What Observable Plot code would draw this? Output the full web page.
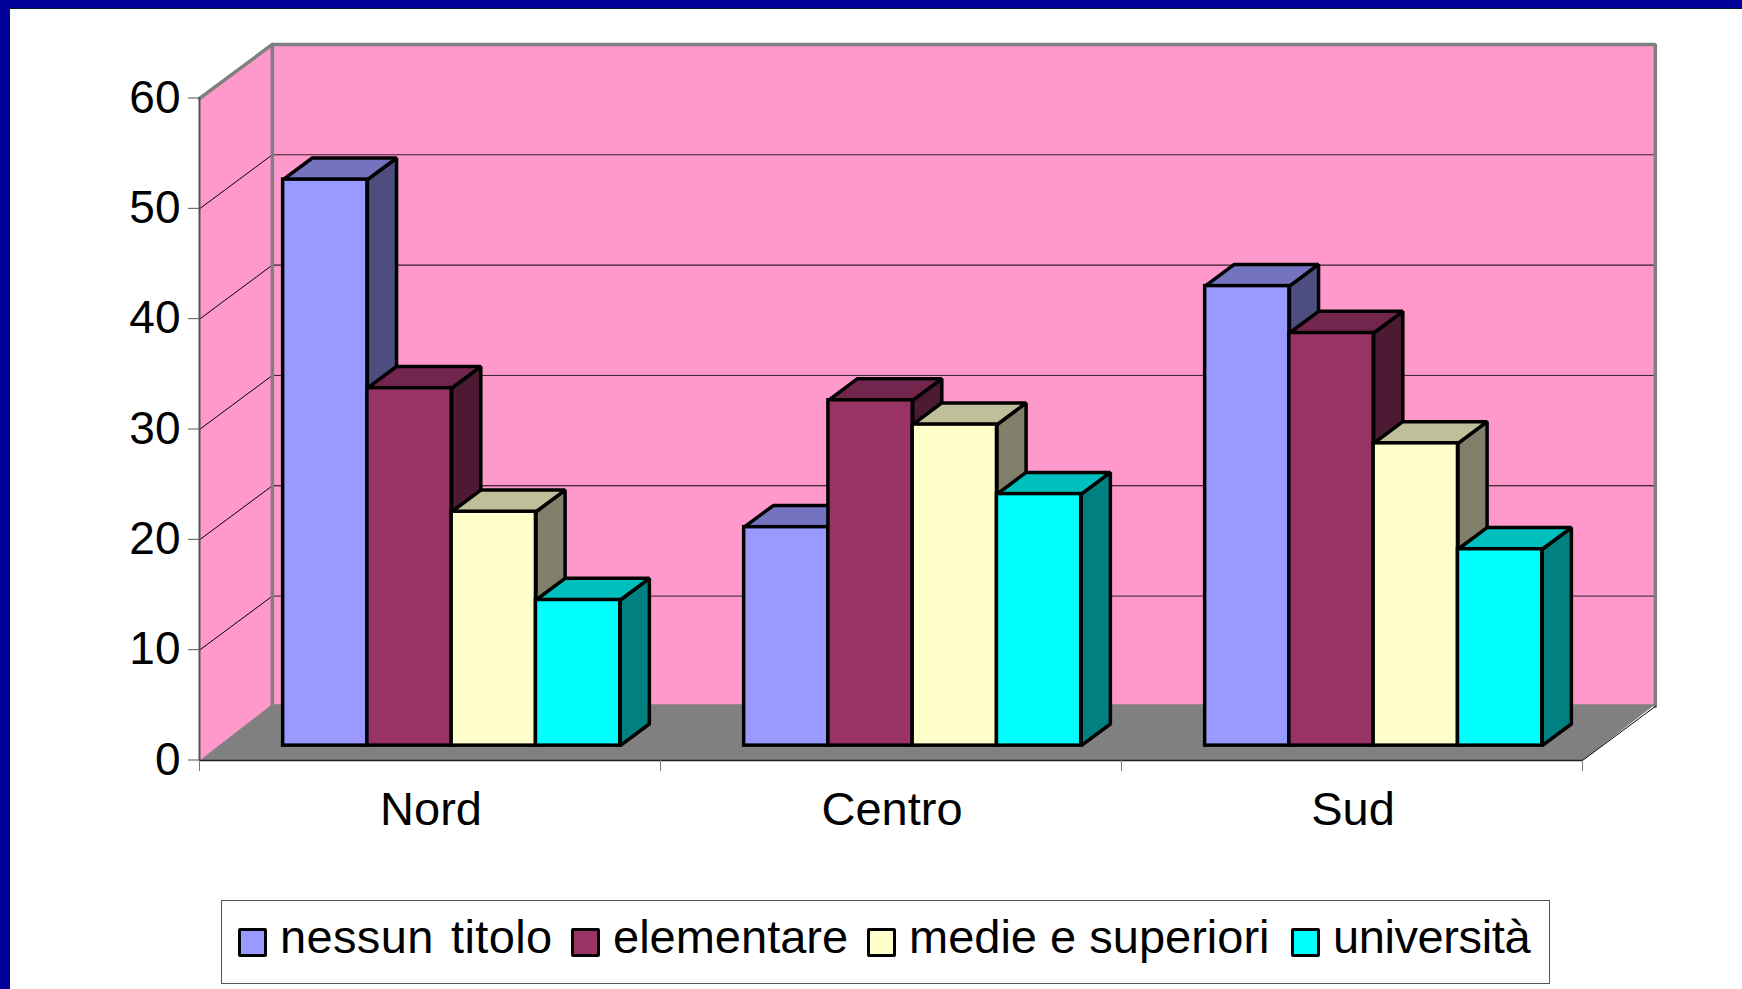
<!DOCTYPE html>
<html>
<head>
<meta charset="utf-8">
<script src="https://cdn.jsdelivr.net/npm/d3@7"></script>
<script src="https://cdn.jsdelivr.net/npm/@observablehq/plot@0.6"></script>
<style>
html,body{margin:0;padding:0;background:#fff;overflow:hidden;}
#stage{position:relative;width:1742px;height:989px;overflow:hidden;font-family:"Liberation Sans",Arial,sans-serif;}
#frameTop{position:absolute;left:0;top:0;width:1742px;height:8px;background:#000099;border-bottom:1px solid #001a33;}
#frameLeft{position:absolute;left:0;top:0;width:9px;height:989px;background:#000099;border-right:1px solid #001a33;}
#legend{position:absolute;left:221px;top:900px;width:1329px;height:84px;border:1px solid #555;box-sizing:border-box;background:#fff;}
.sw{position:absolute;top:27px;width:29px;height:29px;border:3.5px solid #000;border-radius:2px;box-sizing:border-box;}
.lb{position:absolute;top:10px;font-size:47px;line-height:52px;color:#000;white-space:pre;}
</style>
</head>
<body>
<div id="stage"></div>
<script>
// ---- data ----
const categories = ["Nord", "Centro", "Sud"];
const seriesNames = ["nessun titolo", "elementare", "medie e superiori", "università"];
const nessunTitolo = [51.3, 19.8, 41.65];
const elementare = [32.4, 31.3, 37.4];
const medieSuperiori = [21.2, 29.1, 27.4];
const universita = [13.2, 22.8, 17.8];
const yTicks = [0, 10, 20, 30, 40, 50, 60];

// ---- styles ----
const frontColors = ["#9999ff", "#993366", "#ffffcc", "#00ffff"];
const topColors = ["#7373bf", "#73264d", "#bfbf99", "#00bfbf"];
const sideColors = ["#4d4d80", "#4d1a33", "#80806a", "#008080"];
const seriesValues = [nessunTitolo, elementare, medieSuperiori, universita];

// oblique projection of the 3D chart box, in data units of the x and y scales
const boxDX = 0.158, boxDY = 4.9;        // full box depth
const barFront = 0.275, barBack = 0.675; // bar depth within the box
const catGap = 0.138, barW = 0.1828;     // inside one category
const floorLift = 0.2;
const P = (x, v, d) => ({x: x + d * boxDX, y: v + d * boxDY});

const poly = (pts, o) => Plot.line(pts, {x: "x", y: "y", curve: "linear-closed", strokeLinejoin: "miter", ...o});
const path = (pts, o) => Plot.line(pts, {x: "x", y: "y", strokeLinejoin: "miter", ...o});

const wallMarks = [
  poly([P(0, 0, 1), P(3, 0, 1), P(3, 60, 1), P(0, 60, 1)], {fill: "#ff99cc", stroke: "none"}),
  poly([P(0, 0, 0), P(0, 0, 1), P(0, 60, 1), P(0, 60, 0)], {fill: "#ff99cc", stroke: "none"}),
  poly([P(0, 0, 0), P(3, 0, 0), P(3, floorLift, 1), P(0, floorLift, 1)], {fill: "#808080", stroke: "none"})
];

const gridMarks = yTicks.filter(v => v > 0 && v < 60).flatMap(v => [
  path([P(0, v, 0), P(0, v, 1)], {stroke: "#000", strokeWidth: 1}),
  path([P(0, v, 1), P(3, v, 1)], {stroke: "#000", strokeWidth: 1, strokeOpacity: (v / 10) % 2 ? 0.8 : 1})
]);

const edgeMarks = [
  path([P(0, 60, 0), P(0, 60, 1), P(3, 60, 1), P(3, 0, 1)], {stroke: "#808080", strokeWidth: 3.5}),
  path([P(0, 60, 1), P(0, 0, 1)], {stroke: "#808080", strokeWidth: 3.5}),
  path([P(3, 0, 0), P(3, 0, 1)], {stroke: "#000", strokeWidth: 1}),
  path([P(0, 0, 0), P(0, 60, 0)], {stroke: "#555", strokeWidth: 2}),
  path([P(0, 0, 0), P(3, 0, 0)], {stroke: "#222", strokeWidth: 1.5})
];

const barMarks = categories.flatMap((c, i) => seriesValues.flatMap((vals, s) => {
  const v = vals[i];
  const x1 = i + catGap + s * barW, x2 = x1 + barW;
  const style = {stroke: "#000", strokeWidth: 3.5};
  const f0 = P(x1, 0, barFront), f1 = P(x2, v, barFront);
  return [
    poly([P(x2, 0, barFront), P(x2, 0, barBack), P(x2, v, barBack), P(x2, v, barFront)], {fill: sideColors[s], ...style}),
    poly([P(x1, v, barFront), P(x2, v, barFront), P(x2, v, barBack), P(x1, v, barBack)], {fill: topColors[s], ...style}),
    Plot.rect([{category: c, series: seriesNames[s], value: v}], {x1: () => f0.x, x2: () => f1.x, y1: () => f0.y, y2: () => f1.y, fill: frontColors[s], ...style})
  ];
}));

const chart = Plot.plot({
  width: 1742, height: 989,
  marginLeft: 199, marginRight: 160, marginTop: 98, marginBottom: 229,
  style: {background: "transparent", fontFamily: "'Liberation Sans', Arial, sans-serif", overflow: "visible"},
  x: {domain: [0, 3]},
  y: {domain: [0, 60]},
  marks: [
    ...wallMarks,
    ...gridMarks,
    ...edgeMarks,
    ...barMarks,
    Plot.axisY({ticks: yTicks, tickSize: 11, tickPadding: 8, fontSize: 46, dy: -0.5, stroke: "#555", fill: "#000", label: null, tickFormat: d => String(d)}),
    Plot.axisX({ticks: [0, 1, 2, 3], tickSize: 11, stroke: "#777", tickFormat: () => "", label: null}),
    Plot.axisX({ticks: [0.5, 1.5, 2.5], tickSize: 0, tickPadding: 31, dx: 1, fontSize: 47, fill: "#000", label: null, tickFormat: d => categories[Math.floor(d)]})
  ]
});

const stage = document.getElementById("stage");
stage.appendChild(chart);
const ft = document.createElement("div"); ft.id = "frameTop"; stage.appendChild(ft);
const fl = document.createElement("div"); fl.id = "frameLeft"; stage.appendChild(fl);

// legend
const swatchLeft = [16, 349, 645, 1069];
const labelLeft = [58, 391, 687, 1111];
const labelWordSpacing = [4, 0, 0, 0];
const labelLetterSpacing = [0.35, 0, 0, -0.4];
const legend = document.createElement("div"); legend.id = "legend";
seriesNames.forEach((name, s) => {
  const sw = document.createElement("div"); sw.className = "sw";
  sw.style.left = swatchLeft[s] + "px"; sw.style.background = frontColors[s];
  const lb = document.createElement("div"); lb.className = "lb";
  lb.style.left = labelLeft[s] + "px"; lb.textContent = name;
  lb.style.wordSpacing = labelWordSpacing[s] + "px";
  lb.style.letterSpacing = labelLetterSpacing[s] + "px";
  legend.append(sw, lb);
});
stage.appendChild(legend);
</script>
</body>
</html>
